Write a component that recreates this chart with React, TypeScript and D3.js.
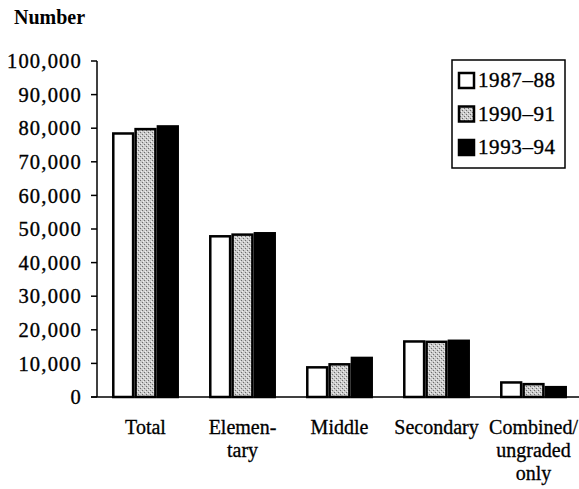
import React from "react";
import * as d3 from "d3";

const categories = ["Total", "Elementary", "Middle", "Secondary", "Combined"];
const categoryLabels = [["Total"], ["Elemen-", "tary"], ["Middle"], ["Secondary"], ["Combined/", "ungraded", "only"]];
const seriesNames = ["1987–88", "1990–91", "1993–94"];
const values1987 = [78800, 48200, 9200, 16900, 4700];
const values1990 = [80100, 48700, 10100, 16800, 4200];
const values1993 = [80900, 49100, 12000, 17100, 3300];
const yTicks = [0, 10000, 20000, 30000, 40000, 50000, 60000, 70000, 80000, 90000, 100000];

const W = 579;
const H = 489;
const FONT = "'Liberation Serif', 'Times New Roman', serif";

export default function App() {
  const series = [values1987, values1990, values1993];
  const fills = ["#ffffff", "url(#stipple)", "#000000"];
  const x0 = d3.scaleBand<string>().domain(categories).range([97, 582]).paddingInner(0.31).paddingOuter(0.155);
  const x1 = d3.scaleBand<string>().domain(seriesNames).range([0, x0.bandwidth()]).padding(0);
  const y = d3.scaleLinear().domain([0, 100000]).range([397, 61]);
  const fmt = d3.format(",");

  return (
    <svg width={W} height={H} style={{ position: "absolute", left: 0, top: 0, background: "#fff" }} fontFamily={FONT}>
      <defs>
        <pattern id="stipple" width="4" height="4" patternUnits="userSpaceOnUse">
          <rect width="4" height="4" fill="#cccccc" />
          <rect x="0" y="0" width="1" height="1" fill="#6a6a6a" />
          <rect x="2" y="2" width="1" height="1" fill="#6a6a6a" />
          <rect x="1" y="3" width="1" height="1" fill="#f0f0f0" />
          <rect x="3" y="1" width="1" height="1" fill="#f0f0f0" />
        </pattern>
      </defs>
      <rect width={W} height={H} fill="#fff" />
      <text x={14} y={24} fontSize={20} fontWeight="bold">Number</text>

      {/* y axis */}
      <line x1={97} x2={97} y1={y(100000)} y2={y(0)} stroke="#000" strokeWidth={1.5} />
      {yTicks.map((t) => (
        <g key={t}>
          <line x1={91} x2={97} y1={y(t)} y2={y(t)} stroke="#000" strokeWidth={1.5} />
          <text x={82} y={y(t)} dy="0.35em" textAnchor="end" fontSize={20.5} letterSpacing={1.2} stroke="#000" strokeWidth={0.35}>
            {fmt(t)}
          </text>
        </g>
      ))}

      {/* bars */}
      {categories.map((c, i) => (
        <g key={c} transform={`translate(${x0(c)},0)`}>
          {seriesNames.map((s, j) => {
            const v = series[j][i];
            return (
              <rect
                key={s}
                x={(x1(s) as number) + 1.25}
                y={y(v) + 1.25}
                width={x1.bandwidth() - 2.5}
                height={y(0) - y(v) - 1.25}
                fill={fills[j]}
                stroke="#000"
                strokeWidth={2.5}
              />
            );
          })}
        </g>
      ))}

      {/* baseline */}
      <line x1={91} x2={579} y1={y(0)} y2={y(0)} stroke="#000" strokeWidth={1.5} />

      {/* category labels */}
      {categories.map((c, i) => (
        <text key={c} x={(x0(c) as number) + x0.bandwidth() / 2} textAnchor="middle" fontSize={20} stroke="#000" strokeWidth={0.3}>
          {categoryLabels[i].map((l, k) => (
            <tspan key={k} x={(x0(c) as number) + x0.bandwidth() / 2} y={434 + k * 23}>
              {l}
            </tspan>
          ))}
        </text>
      ))}

      {/* legend */}
      <rect x={452} y={60} width={113} height={108} fill="#fff" stroke="#000" strokeWidth={1.5} />
      {seriesNames.map((s, j) => {
        const cy = 80 + j * 33.5;
        return (
          <g key={s}>
            <rect x={459} y={cy - 7} width={15} height={15} fill={fills[j]} stroke="#000" strokeWidth={2.5} />
            <text x={478} y={cy} dy="0.35em" fontSize={21} letterSpacing={0.6} stroke="#000" strokeWidth={0.35}>
              {s}
            </text>
          </g>
        );
      })}
    </svg>
  );
}
